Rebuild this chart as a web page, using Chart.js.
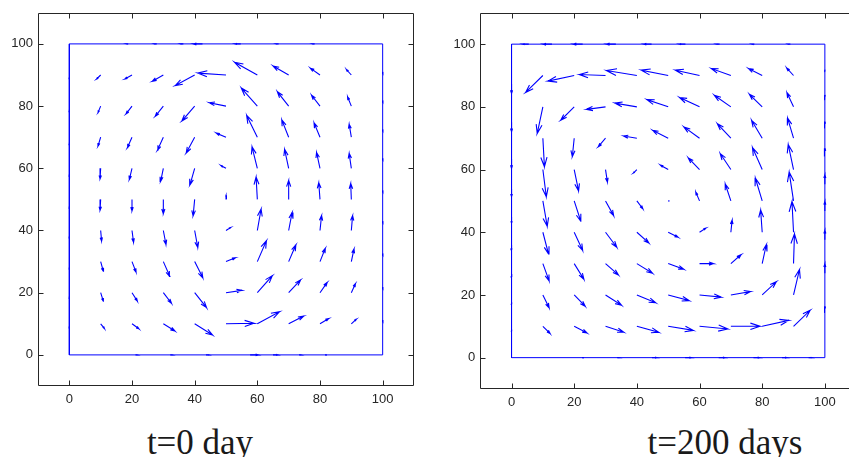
<!DOCTYPE html>
<html>
<head>
<meta charset="utf-8">
<script src="https://cdn.jsdelivr.net/npm/chart.js@4.4.0/dist/chart.umd.min.js"></script>
<style>
html, body { margin: 0; padding: 0; background: #fff; overflow: hidden; }
body { width: 849px; height: 457px; position: relative; }
canvas { position: absolute; top: 0; }
.caption {
  position: absolute; top: 425px; width: 240px;
  font-family: "Liberation Serif", serif; font-size: 35px; line-height: 35px;
  color: #1a1a1a; text-align: center; white-space: nowrap;
}
</style>
</head>
<body>
<canvas id="day0" width="430" height="420" style="left:0"></canvas>
<canvas id="day200" width="420" height="420" style="left:440px"></canvas>
<div class="caption" style="left:80px">t=0 day</div>
<div class="caption" style="left:605px">t=200 days</div>
<script>
// interior grid (rows top to bottom) and the square domain
const gridX = [10, 20, 30, 40, 50, 60, 70, 80, 90];
const gridY = [90, 80, 70, 60, 50, 40, 30, 20, 10];
const axisTicks = [0, 20, 40, 60, 80, 100];
const squareX = [0, 100, 100, 0, 0];
const squareY = [0, 0, 100, 100, 0];

// velocity at t = 0
const u0 = [
  [-1.3, -2.3, -3.5, -6.2, -9.0, -7.3, -5.0, -3.1, -1.6],
  [-0.85, -1.9, -2.6, -4.1, -5.4, -5.1, -3.6, -2.7, -1.2],
  [-0.85, -1.5, -1.9, -2.7, -3.1, -3.4, -2.2, -1.9, -0.7],
  [-0.2, -0.85, -0.85, -1.5, -1.6, -1.7, -1.3, -1.1, -0.7],
  [-0.2, 0, 0, -0.5, 0, -0.4, 0, -0.4, -0.2],
  [0.3, 0.5, 0.85, 1.0, 1.5, 1.2, 1.1, 0.5, 0.4],
  [0.85, 1.3, 2.1, 2.6, 3.0, 2.9, 2.3, 1.7, 0.85],
  [0.85, 1.7, 2.6, 3.8, 5.1, 4.8, 3.8, 2.3, 1.3],
  [1.2, 2.2, 3.7, 5.7, 8.9, 7.1, 4.8, 2.8, 1.6]
];
const v0 = [
  [-1.3, -1.3, -2.0, -3.4, 0.6, 4.1, 2.9, 2.2, 1.8],
  [-2.1, -2.5, -3.3, -4.8, 1.1, 5.8, 4.6, 3.5, 3.0],
  [-2.9, -3.4, -4.2, -5.1, 1.3, 7.0, 5.6, 4.6, 4.2],
  [-3.4, -3.6, -4.2, -5.3, 0.85, 6.9, 6.1, 5.1, 4.8],
  [-3.5, -3.7, -4.6, -5.3, 1.3, 7.2, 6.1, 5.4, 5.1],
  [-3.4, -3.8, -4.5, -5.5, 1.0, 6.9, 5.8, 4.8, 4.8],
  [-3.1, -3.4, -4.8, -5.2, 1.2, 6.7, 5.4, 4.3, 4.1],
  [-2.7, -2.7, -3.4, -4.8, 0.75, 5.5, 4.1, 3.3, 2.9],
  [-1.5, -1.6, -2.3, -3.6, 0.2, 3.9, 2.5, 1.7, 1.5]
];
// boundary samples at t = 0 (position along the wall, tangential speed)
const top0X = [18.8, 27.9, 36.4, 42.5, 54.7, 66.8, 78.3];
const top0U = [-0.6, -0.7, -0.9, -2.9, -1.8, -0.7, -0.6];
const bottom0X = [21.1, 32.2, 43.6, 57.7, 65.0, 73.3, 81.6];
const bottom0U = [0.6, 0.7, 0.9, 2.6, 1.5, 0.7, 0.6];
const left0Y = [89.4, 78.8, 68.2, 58.1, 47.8, 38.2, 28.2, 18.8, 9.3];
const left0V = [-0.6, -0.6, -0.6, -0.6, -0.6, -0.6, -0.6, -0.6, -0.6];
const right0Y = [90.4, 81.2, 71.9, 62.6, 52.3, 42.4, 32.0, 21.2, 10.6];
const right0V = [0.6, 0.6, 0.6, 0.6, 0.6, 0.6, 0.6, 0.6, 0.6];

// velocity at t = 200 days
const u200 = [
  [-5.5, -8.4, -8.3, -9.7, -8.6, -7.7, -6.2, -4.4, -2.2],
  [-1.8, -4.3, -6.1, -7.0, -6.8, -6.4, -5.3, -4.1, -2.1],
  [0.5, -0.6, -2.3, -4.2, -5.0, -5.0, -4.3, -3.4, -1.9],
  [1.1, 1.4, 0.6, -1.1, -2.5, -3.6, -3.4, -3.1, -1.7],
  [1.4, 2.1, 2.6, 1.9, 0.4, -1.2, -1.8, -2.2, -1.4],
  [1.8, 2.7, 3.6, 3.8, 3.2, 2.0, 0.4, -0.5, -0.5],
  [2.0, 3.1, 4.1, 5.0, 5.0, 4.5, 3.3, 1.3, 0.3],
  [2.0, 3.5, 5.1, 6.0, 6.7, 6.9, 6.3, 4.5, 1.9],
  [2.3, 4.1, 5.8, 7.0, 8.0, 9.0, 9.3, 8.5, 5.3]
];
const v200 = [
  [-5.4, -1.8, 0.3, 1.6, 1.7, 1.7, 2.2, 2.2, 2.4],
  [-8.5, -4.3, -0.8, 1.2, 2.3, 3.0, 3.7, 4.0, 4.5],
  [-9.1, -5.9, -2.7, 0.7, 2.5, 3.6, 4.6, 5.7, 6.4],
  [-8.7, -6.8, -4.0, -1.1, 1.4, 3.7, 5.1, 7.0, 8.0],
  [-8.1, -6.5, -4.7, -2.5, 0, 2.8, 5.4, 7.3, 9.2],
  [-6.9, -5.8, -4.8, -3.4, -1.6, 1.3, 3.9, 7.1, 9.8],
  [-5.5, -5.0, -3.6, -3.1, -1.8, 0, 2.9, 6.0, 9.5],
  [-4.1, -3.6, -3.3, -2.5, -1.8, -0.7, 1.1, 4.2, 8.1],
  [-2.3, -2.1, -1.9, -1.9, -1.3, -0.85, 0, 1.9, 5.1]
];
const top200X = [5.5, 12.9, 22.7, 33.3, 44.7, 55.5, 66.4, 77.5, 89.0];
const top200U = [-2.0, -2.8, -3.0, -3.0, -2.5, -2.0, -1.0, -0.7, -0.6];
const bottom200X = [22.5, 33.7, 44.8, 55.4, 66.1, 77.2, 86.3, 94.8];
const bottom200U = [0.6, 0.7, 1.5, 2.0, 2.0, 2.0, 1.5, 1.0];
const left200Y = [87.3, 75.1, 63.4, 53.9, 44.9, 35.9, 26.7, 17.7, 9.0];
const left200V = [-3.0, -3.0, -3.0, -2.5, -2.0, -1.5, -1.0, -0.7, -0.6];
const right200Y = [14.4, 26.9, 37.6, 46.8, 55.3, 64.3, 73.3, 82.3, 91.2];
const right200V = [2.0, 3.0, 3.0, 3.0, 3.0, 2.5, 2.0, 1.5, 0.6];

const BLUE = '#0000ff';
const AXIS = '#262626';
// quiver-style arrowhead proportions
const ALPHA = 0.33, BETA = 0.33;

function pushArrow(pts, x, y, u, v) {
    const hx = x + u, hy = y + v;
    pts.push(
        {x: x, y: y}, {x: hx, y: hy},
        {x: hx - ALPHA * (u + BETA * v), y: hy - ALPHA * (v - BETA * u)},
        {x: null, y: null},
        {x: hx, y: hy},
        {x: hx - ALPHA * (u - BETA * v), y: hy - ALPHA * (v + BETA * u)},
        {x: null, y: null}
    );
}

function quiverPoints(u, v, topX, topU, bottomX, bottomU, leftY, leftV, rightY, rightV) {
    const pts = [];
    gridY.forEach((y, r) => gridX.forEach((x, c) => pushArrow(pts, x, y, u[r][c], v[r][c])));
    topX.forEach((x, i) => pushArrow(pts, x, 100, topU[i], 0));
    bottomX.forEach((x, i) => pushArrow(pts, x, 0, bottomU[i], 0));
    leftY.forEach((y, i) => pushArrow(pts, 0, y, 0, leftV[i]));
    rightY.forEach((y, i) => pushArrow(pts, 100, y, 0, rightV[i]));
    return pts;
}

// box with inward ticks on all four sides
const boxAxes = {
    id: 'boxAxes',
    afterDraw(chart) {
        const {ctx, chartArea: a, scales: {x, y}} = chart;
        const L = Math.round(a.left) + 0.5, R = Math.round(a.right) - 0.5;
        const T = Math.round(a.top) + 0.5, B = Math.round(a.bottom) - 0.5;
        ctx.save();
        ctx.strokeStyle = AXIS;
        ctx.lineWidth = 1;
        ctx.beginPath();
        ctx.rect(L, T, R - L, B - T);
        x.ticks.forEach(t => {
            const px = Math.round(x.getPixelForValue(t.value)) + 0.5;
            ctx.moveTo(px, B); ctx.lineTo(px, B - 5);
            ctx.moveTo(px, T); ctx.lineTo(px, T + 5);
        });
        y.ticks.forEach(t => {
            const py = Math.round(y.getPixelForValue(t.value)) + 0.5;
            ctx.moveTo(L, py); ctx.lineTo(L + 5, py);
            ctx.moveTo(R, py); ctx.lineTo(R - 5, py);
        });
        ctx.stroke();
        ctx.restore();
    }
};

function axisOptions(fitSize, horizontal) {
    return {
        type: 'linear', min: -10, max: 110,
        afterBuildTicks: axis => { axis.ticks = axisTicks.map(value => ({value})); },
        afterFit: axis => { if (horizontal) axis.height = fitSize; else axis.width = fitSize; },
        grid: {display: false, drawTicks: false},
        border: {display: false},
        ticks: {
            color: AXIS, padding: horizontal ? 6 : 5, maxRotation: 0, autoSkip: false,
            font: {family: '"Liberation Sans", Arial, sans-serif', size: 13}
        }
    };
}

function drawQuiver(id, points, box) {
    new Chart(document.getElementById(id), {
        type: 'line',
        data: {
            datasets: [
                {data: squareX.map((x, i) => ({x: x, y: squareY[i]})), borderColor: BLUE, borderWidth: 1, pointRadius: 0},
                {data: points, borderColor: BLUE, borderWidth: 1.1, pointRadius: 0, spanGaps: false}
            ]
        },
        options: {
            responsive: false,
            animation: false,
            layout: {padding: box.padding},
            elements: {line: {tension: 0}},
            plugins: {legend: {display: false}, tooltip: {enabled: false}},
            scales: {x: axisOptions(box.xh, true), y: axisOptions(box.yw, false)}
        },
        plugins: [boxAxes]
    });
}

drawQuiver('day0',
    quiverPoints(u0, v0, top0X, top0U, bottom0X, bottom0U, left0Y, left0V, right0Y, right0V),
    {padding: {left: 0, right: 16, top: 9, bottom: 0}, yw: 38, xh: 34});

drawQuiver('day200',
    quiverPoints(u200, v200, top200X, top200U, bottom200X, bottom200U, left200Y, left200V, right200Y, right200V),
    {padding: {left: 0, right: 3.8, top: 12.5, bottom: 0}, yw: 40.2, xh: 31});
</script>
</body>
</html>
